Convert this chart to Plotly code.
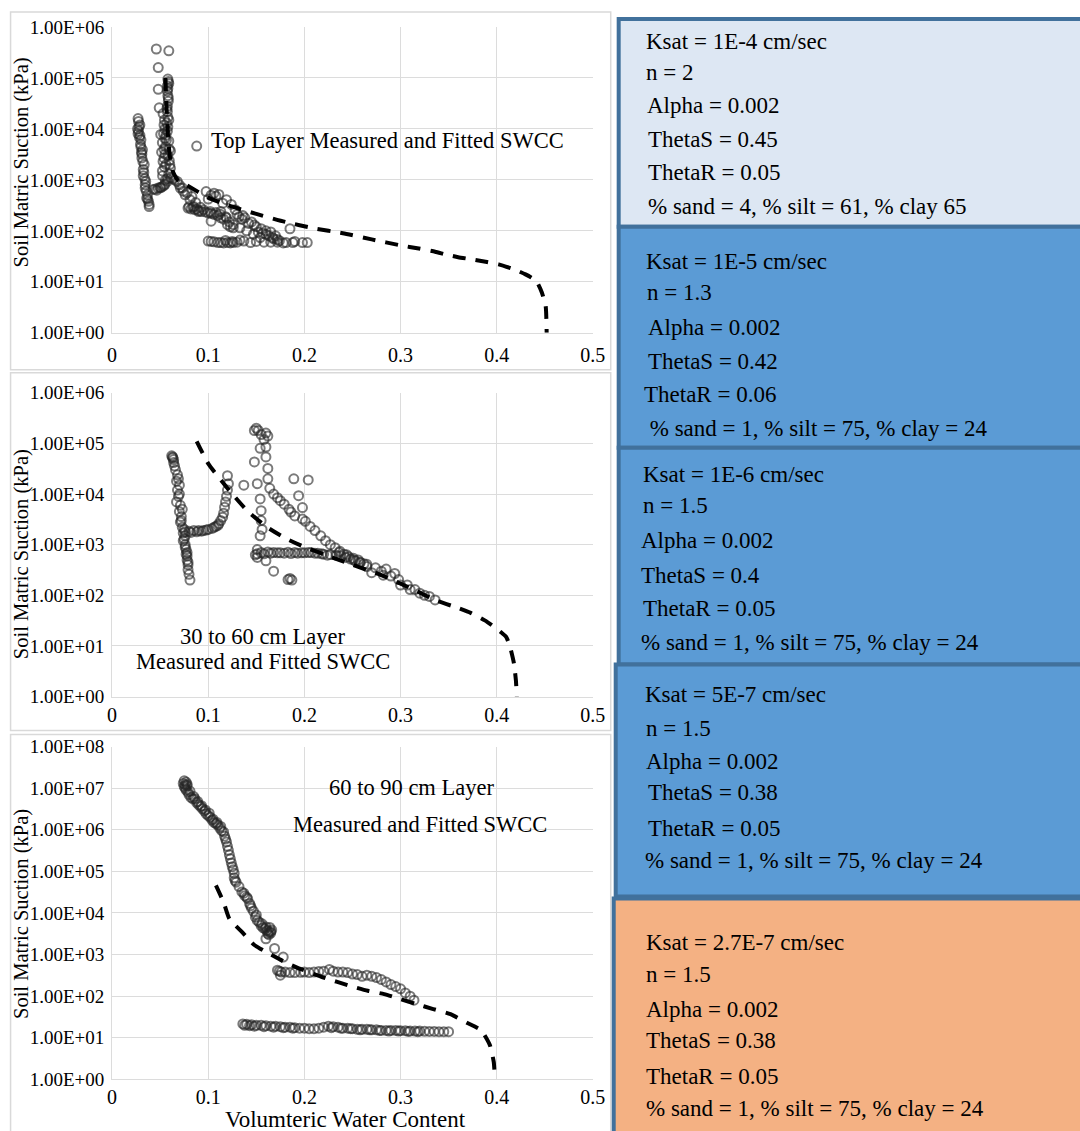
import plotly.graph_objects as go

W, H = 1080, 1131
FONT = "Liberation Serif, Times New Roman, serif"

# ---------------- data ----------------
# Top layer measured (volumetric water content, suction kPa)
top_meas_x = [0.046, 0.059, 0.048, 0.048, 0.049, 0.0506, 0.0523, 0.054, 0.054, 0.056, 0.0523,
              0.0585, 0.058, 0.0575, 0.0575, 0.058, 0.0585, 0.0575, 0.0575, 0.058, 0.057, 0.0575, 0.056, 0.059,
              0.0555, 0.0607, 0.058, 0.0595, 0.0607, 0.059, 0.0575,
              0.0590, 0.0580, 0.0585, 0.0570, 0.0590, 0.0580, 0.0565, 0.0595, 0.0600,
              0.053, 0.0545, 0.055, 0.0535, 0.055, 0.054, 0.055, 0.053, 0.0545, 0.0515, 0.0525, 0.0555,
              0.027, 0.0275, 0.0289, 0.0265, 0.0275, 0.029, 0.030, 0.0295, 0.0316, 0.031, 0.031, 0.0334, 0.0324,
              0.0324, 0.035, 0.0344, 0.0344, 0.0368, 0.036, 0.0378, 0.0385, 0.0385,
              0.0280, 0.0270, 0.0285, 0.0300, 0.0305, 0.0320, 0.0330, 0.0340, 0.0355, 0.0370,
              0.088,
              0.0427, 0.045, 0.048, 0.050, 0.0523, 0.055, 0.0575, 0.061, 0.063, 0.0465, 0.0505, 0.0540,
              0.0678, 0.071, 0.074, 0.076, 0.081, 0.085, 0.090, 0.0978, 0.106, 0.111, 0.119, 0.124, 0.103, 0.113,
              0.119, 0.126, 0.133, 0.140, 0.147, 0.154, 0.160, 0.167, 0.174, 0.181, 0.188, 0.198, 0.185, 0.145,
              0.150, 0.155, 0.160, 0.165, 0.170, 0.138, 0.130, 0.135,
              0.0650, 0.0700, 0.0730, 0.0780, 0.0830, 0.0870, 0.0920, 0.1000, 0.1030, 0.1080, 0.1150,
              0.1280, 0.1320, 0.1360, 0.1420, 0.1480, 0.1520, 0.1570, 0.1630, 0.1680, 0.1720,
              0.079, 0.082, 0.086, 0.090, 0.093, 0.097, 0.100, 0.103, 0.106, 0.110, 0.113, 0.116, 0.120, 0.123, 0.126,
              0.0800, 0.0840, 0.0880, 0.0950, 0.1020, 0.1080, 0.1120, 0.1180, 0.1220,
              0.100, 0.103, 0.106, 0.110, 0.113, 0.116, 0.120, 0.123, 0.126, 0.130, 0.137, 0.144, 0.150, 0.158,
              0.165, 0.172, 0.178, 0.190, 0.203, 0.1180, 0.1250, 0.1330]
top_meas_y = [3.7e5, 3.4e5, 1.6e5, 6e4, 2.6e4, 7.8e3, 5.4e3, 1.2e4, 2.7e3, 2e3, 1.5e3,
              8.5e4, 9.5e4, 7e4, 5.5e4, 4.5e4, 3.5e4, 2.8e4, 2.2e4, 1.7e4, 1.3e4, 9e3, 7.5e3, 5.8e3,
              4.5e3, 3.7e3, 3e3, 2.4e3, 1.7e3, 1.3e3, 1.05e3,
              7.8e4, 6.2e4, 4e4, 2.5e4, 1.5e4, 1.1e4, 6e3, 4e3, 2e3,
              2e4, 1.5e4, 1e4, 8e3, 6.5e3, 4e3, 3.2e3, 2.3e3, 1.8e3, 3.5e3, 1.2e3, 1e3,
              1.6e4, 1.4e4, 1.2e4, 1e4, 9e3, 7.5e3, 6.1e3, 5e3, 3.9e3, 3.2e3, 2.7e3, 2e3, 1.6e3,
              1.2e3, 930, 800, 690, 510, 440, 380, 330, 300,
              1.1e4, 8e3, 6.8e3, 4.4e3, 3.5e3, 2.3e3, 1.4e3, 1.05e3, 600, 420,
              4.6e3,
              650, 660, 690, 710, 740, 820, 940, 1.1e3, 1.05e3, 630, 700, 780,
              930, 690, 600, 510, 410, 300, 240, 590, 550, 520, 410, 330, 155, 240,
              180, 132, 115, 100, 86, 74, 86, 74, 64, 59, 59, 59, 110, 150,
              120, 110, 100, 95, 80, 180, 210, 170,
              1000, 800, 700, 560, 470, 360, 290, 420, 500, 480, 350,
              260, 190, 200, 140, 130, 95, 90, 80, 70, 68,
              280, 270, 260, 250, 240, 235, 225, 220, 210, 200, 180, 170, 132, 120, 115,
              300, 290, 270, 260, 240, 230, 215, 190, 150,
              63, 62, 61, 59, 59, 58, 59, 58, 59, 60, 63, 59, 62, 60,
              60, 60, 58, 62, 59, 65, 62, 66]
top_fit_x = [0.0555, 0.0565, 0.058, 0.060, 0.063, 0.068, 0.078, 0.100, 0.120, 0.150, 0.180, 0.210,
             0.240, 0.270, 0.300, 0.319, 0.336, 0.348, 0.360, 0.375, 0.390, 0.402, 0.418, 0.430, 0.441,
             0.447, 0.451, 0.452]
top_fit_y = [1e5, 3e4, 8e3, 3e3, 1.5e3, 1000, 780, 450, 320, 215, 150, 112,
             90, 68, 52, 45, 39, 34, 30.5, 27.5, 24.5, 22, 17.6, 14, 10.5,
             6.2, 3.3, 1.0]

# 30 to 60 cm layer measured
mid_meas_x = [0.062, 0.063, 0.064, 0.065, 0.066, 0.068, 0.069, 0.070, 0.068, 0.069, 0.067, 0.071, 0.070,
              0.072, 0.071, 0.073, 0.074, 0.075, 0.076, 0.077, 0.077, 0.078, 0.079, 0.079, 0.080, 0.081,
              0.074, 0.076, 0.078, 0.072, 0.075, 0.063, 0.064, 0.067, 0.070, 0.073, 0.076, 0.078, 0.079,
              0.076, 0.080, 0.085, 0.090, 0.095, 0.100, 0.104, 0.108, 0.111, 0.113, 0.115, 0.116, 0.117,
              0.118, 0.119, 0.120, 0.121, 0.120, 0.082, 0.088, 0.093, 0.098, 0.106, 0.110,
              0.137,
              0.148, 0.150, 0.152, 0.155, 0.158, 0.160, 0.162, 0.154, 0.160, 0.148, 0.160, 0.162, 0.162, 0.164,
              0.168, 0.172, 0.175, 0.179, 0.184, 0.189, 0.204, 0.194, 0.198, 0.186, 0.190, 0.198, 0.201, 0.206,
              0.211, 0.217, 0.222, 0.227, 0.232, 0.237, 0.244, 0.251, 0.258, 0.265,
              0.151, 0.154, 0.155, 0.155, 0.156, 0.154, 0.151, 0.149,
              0.151, 0.158, 0.165, 0.172, 0.179, 0.186, 0.193, 0.200, 0.207, 0.214, 0.220, 0.227,
              0.155, 0.162, 0.168, 0.175, 0.183, 0.190, 0.197, 0.204, 0.211, 0.218, 0.224,
              0.233, 0.238, 0.243, 0.248, 0.253, 0.258, 0.262, 0.236, 0.241, 0.246, 0.251, 0.256,
              0.151, 0.160, 0.168, 0.183, 0.185, 0.187,
              0.265, 0.270, 0.274, 0.280, 0.282, 0.285, 0.290, 0.294, 0.298, 0.300, 0.307, 0.310, 0.315,
              0.320, 0.325, 0.330, 0.336]
mid_meas_y = [5.7e4, 5.2e4, 4.8e4, 3.6e4, 3e4, 2.4e4, 2e4, 1.5e4, 1.2e4, 9e3, 7e3, 6e3, 4.5e3,
              3.6e3, 2.8e3, 2.2e3, 1.7e3, 1.3e3, 1.0e3, 800, 650, 500, 400, 320, 260, 200,
              1.2e3, 900, 600, 3e3, 2e3, 5.4e4, 4.2e4, 1.8e4, 1e4, 5e3, 1.5e3, 700, 450,
              1.8e3, 1.85e3, 1.9e3, 1.9e3, 1.9e3, 2e3, 2.1e3, 2.3e3, 2.6e3, 3e3, 3.5e3, 4.2e3, 5.5e3,
              7e3, 9e3, 1.2e4, 1.6e4, 2.3e4, 1.75e3, 1.8e3, 1.85e3, 1.95e3, 2.2e3, 2.4e3,
              1.5e4,
              1.8e5, 2e5, 1.8e5, 1.5e5, 1.2e5, 1.6e5, 1.4e5, 8e4, 8.5e4, 4.3e4, 5.4e4, 3.2e4, 2e4, 1.3e4,
              1e4, 8.5e3, 7.4e3, 6.3e3, 5e3, 2e4, 1.9e4, 9.3e3, 5.4e3, 4.4e3, 3.7e3, 3.2e3, 2.9e3, 2.3e3,
              1.9e3, 1.5e3, 1.2e3, 1e3, 870, 740, 630, 500, 440, 370,
              1.6e4, 8e3, 4.7e3, 3e3, 2e3, 1.5e3, 800, 630,
              660, 660, 680, 690, 680, 670, 680, 690, 700, 680, 650, 640,
              700, 720, 700, 690, 710, 700, 690, 700, 680, 660, 620,
              620, 600, 560, 520, 480, 450, 420, 700, 650, 580, 540, 500,
              560, 480, 300, 205, 215, 200,
              410, 280, 350, 300, 250, 330, 240, 270, 205, 160, 160, 130, 130,
              110, 100, 95, 81]
mid_fit_x = [0.088, 0.100, 0.120, 0.140, 0.160, 0.180, 0.200, 0.220, 0.250, 0.280, 0.310, 0.336,
             0.360, 0.373, 0.390, 0.404, 0.410, 0.414, 0.418, 0.420, 0.421]
mid_fit_y = [1.1e5, 4e4, 1.3e4, 4.8e3, 2.3e3, 1.35e3, 900, 650, 400, 250, 140, 81,
             56, 45, 30, 19, 15, 9.5, 4.5, 2.1, 1.0]

# 60 to 90 cm layer measured
bot_meas_x = [0.074, 0.075, 0.076, 0.075, 0.077, 0.076, 0.078, 0.077, 0.079, 0.080, 0.082, 0.084,
              0.086, 0.088, 0.090, 0.092, 0.094, 0.096, 0.098, 0.100, 0.102, 0.104, 0.106, 0.108, 0.110,
              0.112, 0.114, 0.116, 0.117, 0.118, 0.119, 0.120, 0.121, 0.122, 0.123, 0.124, 0.125, 0.126,
              0.127, 0.127, 0.128, 0.129, 0.132, 0.135, 0.138, 0.141, 0.143, 0.145, 0.147, 0.149, 0.151,
              0.153, 0.155, 0.157, 0.159, 0.161, 0.163, 0.165, 0.163, 0.164, 0.166,
              0.078, 0.081, 0.085, 0.089, 0.093, 0.097, 0.101, 0.105, 0.109, 0.113, 0.137, 0.140, 0.144,
              0.150, 0.156, 0.160, 0.162, 0.165,
              0.160, 0.169, 0.178,
              0.172, 0.174, 0.176, 0.175, 0.180, 0.185, 0.190, 0.196, 0.200, 0.205, 0.210, 0.215, 0.220,
              0.226, 0.230, 0.235, 0.240, 0.245, 0.250, 0.255, 0.260, 0.265, 0.270, 0.275, 0.280, 0.285,
              0.290, 0.295, 0.300, 0.305, 0.310, 0.314,
              0.136, 0.140, 0.145, 0.150, 0.155, 0.160, 0.165, 0.170, 0.175, 0.180, 0.185, 0.190, 0.195,
              0.200, 0.205, 0.210, 0.215, 0.220, 0.225, 0.230, 0.235, 0.240, 0.245, 0.250, 0.255, 0.260,
              0.265, 0.270, 0.275, 0.280, 0.285, 0.290, 0.295, 0.300, 0.305, 0.310, 0.315, 0.320, 0.325,
              0.330, 0.335, 0.340, 0.345, 0.350,
              0.138, 0.143, 0.148, 0.158, 0.168, 0.178, 0.188, 0.228, 0.238, 0.248, 0.258, 0.268, 0.278,
              0.288, 0.298, 0.308, 0.318]
bot_meas_y = [1.3e7, 1.5e7, 1.2e7, 1.1e7, 1.4e7, 1e7, 1.15e7, 9e6, 8e6, 7e6, 6e6, 5.5e6,
              5.6e6, 4.5e6, 4e6, 3.6e6, 3.2e6, 2.8e6, 2.4e6, 2.2e6, 2e6, 1.7e6, 1.5e6, 1.4e6, 1.3e6,
              1.1e6, 9.5e5, 8.9e5, 7e5, 6e5, 5.1e5, 4e5, 3.2e5, 2.5e5, 2e5, 1.6e5, 1.3e5, 1.1e5,
              9e4, 7e4, 6e4, 5.5e4, 4.3e4, 3.2e4, 2.6e4, 2.2e4, 1.7e4, 1.3e4, 1.1e4, 8e3, 6.6e3,
              6e3, 5e3, 4.4e3, 4.2e3, 3.8e3, 3.5e3, 3.3e3, 3e3, 4.5e3, 3.9e3,
              1.25e7, 8.5e6, 6.3e6, 4.8e6, 3.8e6, 3e6, 2.5e6, 1.8e6, 1.5e6, 1.2e6, 3e4, 2.4e4, 1.5e4,
              9e3, 5.5e3, 4.6e3, 3.2e3, 3.6e3,
              2.4e3, 1.4e3, 870,
              420, 400, 380, 320, 380, 370, 370, 375, 380, 370, 380, 390, 400,
              440, 400, 380, 380, 370, 340, 330, 300, 320, 300, 280, 250, 220,
              190, 170, 150, 120, 100, 80,
              21.5, 21, 20.5, 20, 20, 19.5, 19, 19, 18.5, 18, 18, 17.5, 17,
              17, 16.5, 16.5, 17, 18, 19, 18.5, 18, 17, 17, 16.5, 16, 16,
              16, 15.5, 15.5, 15, 15, 15, 15, 14.8, 14.8, 14.5, 14.5, 14.5, 14.3,
              14.2, 14.2, 14, 14, 14,
              20, 19.5, 19, 18.5, 18, 17.5, 17, 17.5, 17, 16.5, 15.5, 15.5, 15,
              14.5, 14.5, 14.2, 14]
bot_fit_x = [0.108, 0.116, 0.122, 0.135, 0.148, 0.162, 0.178, 0.193, 0.220, 0.247, 0.266, 0.283,
             0.300, 0.316, 0.334, 0.352, 0.369, 0.384, 0.393, 0.397, 0.398, 0.399]
bot_fit_y = [4.6e4, 1.8e4, 7.2e3, 3.5e3, 1.7e3, 1.1e3, 690, 480, 280, 178, 135, 112,
             85, 65, 49, 37, 23, 15, 6.6, 2.6, 1.3, 1.0]

x_ticks = [0, 0.1, 0.2, 0.3, 0.4, 0.5]
x_tick_text = ["0", "0.1", "0.2", "0.3", "0.4", "0.5"]
y_ticks_6 = [1, 10, 100, 1e3, 1e4, 1e5, 1e6]
y_text_6 = ["1.00E+00", "1.00E+01", "1.00E+02", "1.00E+03", "1.00E+04", "1.00E+05", "1.00E+06"]
y_ticks_8 = [1, 10, 100, 1e3, 1e4, 1e5, 1e6, 1e7, 1e8]
y_text_8 = y_text_6 + ["1.00E+07", "1.00E+08"]

y_title = "Soil Matric Suction (kPa)"
x_title = "Volumteric Water Content"
panel_labels = [["Top Layer Measured and Fitted SWCC"],
                ["30 to 60 cm Layer", "Measured and Fitted SWCC"],
                ["60 to 90 cm Layer", "Measured and Fitted SWCC"]]

box_texts = [
    ["Ksat = 1E-4 cm/sec", "n = 2", "Alpha = 0.002", "ThetaS = 0.45", "ThetaR = 0.05",
     "% sand = 4, % silt = 61, % clay 65"],
    ["Ksat = 1E-5 cm/sec", "n = 1.3", "Alpha = 0.002", "ThetaS = 0.42", "ThetaR = 0.06",
     " % sand = 1, % silt = 75, % clay = 24"],
    ["Ksat = 1E-6 cm/sec", "n = 1.5", "Alpha = 0.002", "ThetaS = 0.4", "ThetaR = 0.05",
     "% sand = 1, % silt = 75, % clay = 24"],
    ["Ksat = 5E-7 cm/sec", "n = 1.5", "Alpha = 0.002", "ThetaS = 0.38", "ThetaR = 0.05",
     "% sand = 1, % silt = 75, % clay = 24"],
    ["Ksat = 2.7E-7 cm/sec", "n = 1.5", "Alpha = 0.002", "ThetaS = 0.38", "ThetaR = 0.05",
     "% sand = 1, % silt = 75, % clay = 24"],
]

# ---------------- layout helpers ----------------
# target pixel positions -> paper fractions (compensating the capture offset/scale)
def py(p):
    return 1 - ((p - 10.0) / 0.982) / H

def px(p):
    return ((p - 4.4) / 0.988) / W

fig = go.Figure()

panels = [
    (top_meas_x, top_meas_y, top_fit_x, top_fit_y, "x", "y"),
    (mid_meas_x, mid_meas_y, mid_fit_x, mid_fit_y, "x2", "y2"),
    (bot_meas_x, bot_meas_y, bot_fit_x, bot_fit_y, "x3", "y3"),
]
for mx, my, fx, fy, xa, ya in panels:
    fig.add_trace(go.Scatter(x=mx, y=my, mode="markers", xaxis=xa, yaxis=ya,
                             marker=dict(symbol="circle-open", size=9, color="rgba(35,35,35,0.6)",
                                         line=dict(width=2, color="rgba(35,35,35,0.6)")),
                             showlegend=False, hoverinfo="skip"))
    fig.add_trace(go.Scatter(x=fx, y=fy, mode="lines", xaxis=xa, yaxis=ya,
                             line=dict(color="black", width=4, dash="13px,10px",
                                       shape="spline", smoothing=0.5),
                             showlegend=False, hoverinfo="skip"))

# plot areas (target pixels): x 112..595 ; y top/bottom ; x-tick label standoff
areas = [(27, 333, 6, 4), (393, 697, 6, 0), (747, 1080, 8, 0)]
xdom = [px(112), px(595)]
grid = "#dcdcdc"
for i, (t, b, dec, stand) in enumerate(areas):
    sfx = "" if i == 0 else str(i + 1)
    yt, ytt = (y_ticks_6, y_text_6) if dec == 6 else (y_ticks_8, y_text_8)
    fig.layout["xaxis" + sfx] = dict(domain=xdom, range=[0, 0.5], anchor="y" + sfx,
                                     tickvals=x_ticks, ticktext=x_tick_text,
                                     showgrid=True, gridcolor=grid, gridwidth=1,
                                     showline=True, linecolor=grid, zeroline=False,
                                     ticks="", ticklabelstandoff=stand,
                                     tickfont=dict(family=FONT, size=20, color="black"))
    fig.layout["yaxis" + sfx] = dict(domain=[py(b), py(t)], type="log", range=[0, dec],
                                     anchor="x" + sfx, tickvals=yt, ticktext=ytt,
                                     showgrid=True, gridcolor=grid, gridwidth=1,
                                     showline=True, linecolor=grid, zeroline=False,
                                     ticks="", ticklabelstandoff=3,
                                     tickfont=dict(family=FONT, size=19, color="black"))

shapes = []
# chart frames
for (y0, y1) in [(12, 370), (373, 731), (735, 1145)]:
    shapes.append(dict(type="rect", xref="paper", yref="paper", x0=px(10), x1=px(613),
                       y0=py(y1), y1=py(y0), line=dict(color="#d9d9d9", width=1.5),
                       fillcolor="rgba(0,0,0,0)", layer="below"))
# right-hand parameter boxes
boxes = [(621, 19, 227, "#dde7f3"), (621, 227, 448, "#5b9bd5"), (621, 448, 665, "#5b9bd5"),
         (618, 665, 897, "#5b9bd5"), (616, 899, 1145, "#f4b183")]
for x0, y0, y1, fc in boxes:
    shapes.append(dict(type="rect", xref="paper", yref="paper", x0=px(x0), x1=px(1100),
                       y0=py(y1), y1=py(y0), line=dict(color="#41719c", width=4),
                       fillcolor=fc, layer="below"))

ann = []
# y-axis titles
for yc in [163, 555, 915]:
    ann.append(dict(text=y_title, xref="paper", yref="paper", x=px(21), y=py(yc),
                    textangle=-90, showarrow=False, xanchor="center", yanchor="middle",
                    font=dict(family=FONT, size=20.5, color="black")))
ann.append(dict(text=x_title, xref="paper", yref="paper", x=px(347), y=py(1120),
                showarrow=False, xanchor="center", yanchor="middle",
                font=dict(family=FONT, size=23, color="black")))
# panel labels
ann.append(dict(text=panel_labels[0][0], xref="paper", yref="paper", x=px(209), y=py(141),
                showarrow=False, xanchor="left", yanchor="middle",
                font=dict(family=FONT, size=22.5, color="black")))
for (txt, xc, yc) in [(panel_labels[1][0], 263, 637), (panel_labels[1][1], 264, 662),
                      (panel_labels[2][0], 413, 788), (panel_labels[2][1], 421, 825)]:
    ann.append(dict(text=txt, xref="paper", yref="paper", x=px(xc), y=py(yc),
                    showarrow=False, xanchor="center", yanchor="middle",
                    font=dict(family=FONT, size=22.5, color="black")))
# box texts
box_rows = [
    ([42, 73, 106, 140, 173, 207], [646, 646, 647, 648, 648, 648]),
    ([262, 293, 328, 362, 395, 429], [646, 647, 648, 648, 644, 644]),
    ([475, 506, 541, 576, 609, 643], [643, 643, 641, 641, 643, 641]),
    ([695, 729, 762, 793, 829, 861], [645, 646, 646, 648, 648, 645]),
    ([943, 975, 1010, 1041, 1077, 1109], [646, 646, 646, 646, 646, 646]),
]
for texts, (ys, xs) in zip(box_texts, box_rows):
    for t, yy, xx in zip(texts, ys, xs):
        ann.append(dict(text=t, xref="paper", yref="paper", x=px(xx), y=py(yy),
                        showarrow=False, xanchor="left", yanchor="middle",
                        font=dict(family=FONT, size=23, color="black")))

fig.update_layout(width=W, height=H, margin=dict(l=0, r=0, t=0, b=0),
                  paper_bgcolor="white", plot_bgcolor="white",
                  shapes=shapes, annotations=ann, showlegend=False)

fig.write_html("out.html")
